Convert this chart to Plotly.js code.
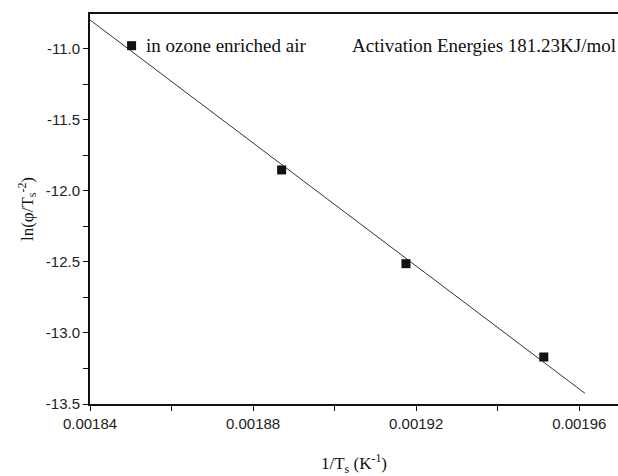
<!DOCTYPE html>
<html>
<head>
<meta charset="utf-8">
<script src="https://cdn.plot.ly/plotly-3.0.1.min.js"></script>
<style>html,body{margin:0;padding:0;background:#fff;}#chart{width:618px;height:476px;}</style>
</head>
<body>
<div id="chart"></div>
<script>
// Data
const invT = [0.0018502, 0.0018870, 0.0019175, 0.0019513];
const lnPhi = [-10.977, -11.852, -12.512, -13.169];
const fitX = [0.00184, 0.0019614];
const fitY = [-10.796, -13.425];
const seriesName = "in ozone enriched air";
const energyLabel = "Activation Energies 181.23KJ/mol";
const xTicks = [0.00184, 0.00188, 0.00192, 0.00196];
const xTickText = ["0.00184", "0.00188", "0.00192", "0.00196"];
const xMinor = [0.00186, 0.00190, 0.00194];
const yTicks = [-13.5, -13.0, -12.5, -12.0, -11.5, -11.0];
const yTickText = ["-13.5", "-13.0", "-12.5", "-12.0", "-11.5", "-11.0"];
const yMinor = [-13.25, -12.75, -12.25, -11.75, -11.25];

const serif = "Liberation Serif";
const sans = "Liberation Sans";

const traces = [
  {x: fitX, y: fitY, mode: "lines", line: {color: "#333", width: 1}, showlegend: false, hoverinfo: "skip"},
  {x: invT, y: lnPhi, mode: "markers", name: seriesName,
   marker: {symbol: "square", size: 9, color: "#111"}, showlegend: false}
];

const axisCommon = {
  showgrid: false, zeroline: false, showline: true, linecolor: "#111", linewidth: 2,
  ticks: "outside", ticklen: 5, tickwidth: 1, tickcolor: "#111",
  tickfont: {family: sans, size: 15, color: "#222"}, tickmode: "array"
};

const layout = {
  width: 618, height: 476,
  margin: {l: 90, r: 0, t: 14, b: 72},
  paper_bgcolor: "#fff", plot_bgcolor: "#fff",
  xaxis: Object.assign({}, axisCommon, {
    range: [0.00184, 0.0019695], tickvals: xTicks, ticktext: xTickText, mirror: true,
    minor: {tickmode: "array", tickvals: xMinor, ticks: "outside", ticklen: 5, tickwidth: 1, tickcolor: "#111", showgrid: false},
    title: {text: "1/T<sub>s</sub> (K<sup>-1</sup>)", font: {family: serif, size: 17, color: "#111"}, standoff: 30}
  }),
  yaxis: Object.assign({}, axisCommon, {
    range: [-13.5, -10.754], tickvals: yTicks, ticktext: yTickText,
    minor: {tickmode: "array", tickvals: yMinor, ticks: "outside", ticklen: 5, tickwidth: 1, tickcolor: "#111", showgrid: false},
    title: {text: "ln(φ/T<sub>s</sub><sup>-2</sup>)", font: {family: serif, size: 17, color: "#111"}, standoff: 8}
  }),
  annotations: [
    {xref: "x", yref: "y", x: invT[0], y: lnPhi[0], xshift: 12, text: seriesName, showarrow: false,
     xanchor: "left", yanchor: "middle", font: {family: serif, size: 19, color: "#111"}},
    {xref: "paper", yref: "y", x: 1, y: lnPhi[0], text: energyLabel, showarrow: false,
     xanchor: "right", yanchor: "middle", font: {family: serif, size: 19, color: "#111"}}
  ]
};

Plotly.newPlot("chart", traces, layout, {displayModeBar: false, staticPlot: true});
</script>
</body>
</html>
